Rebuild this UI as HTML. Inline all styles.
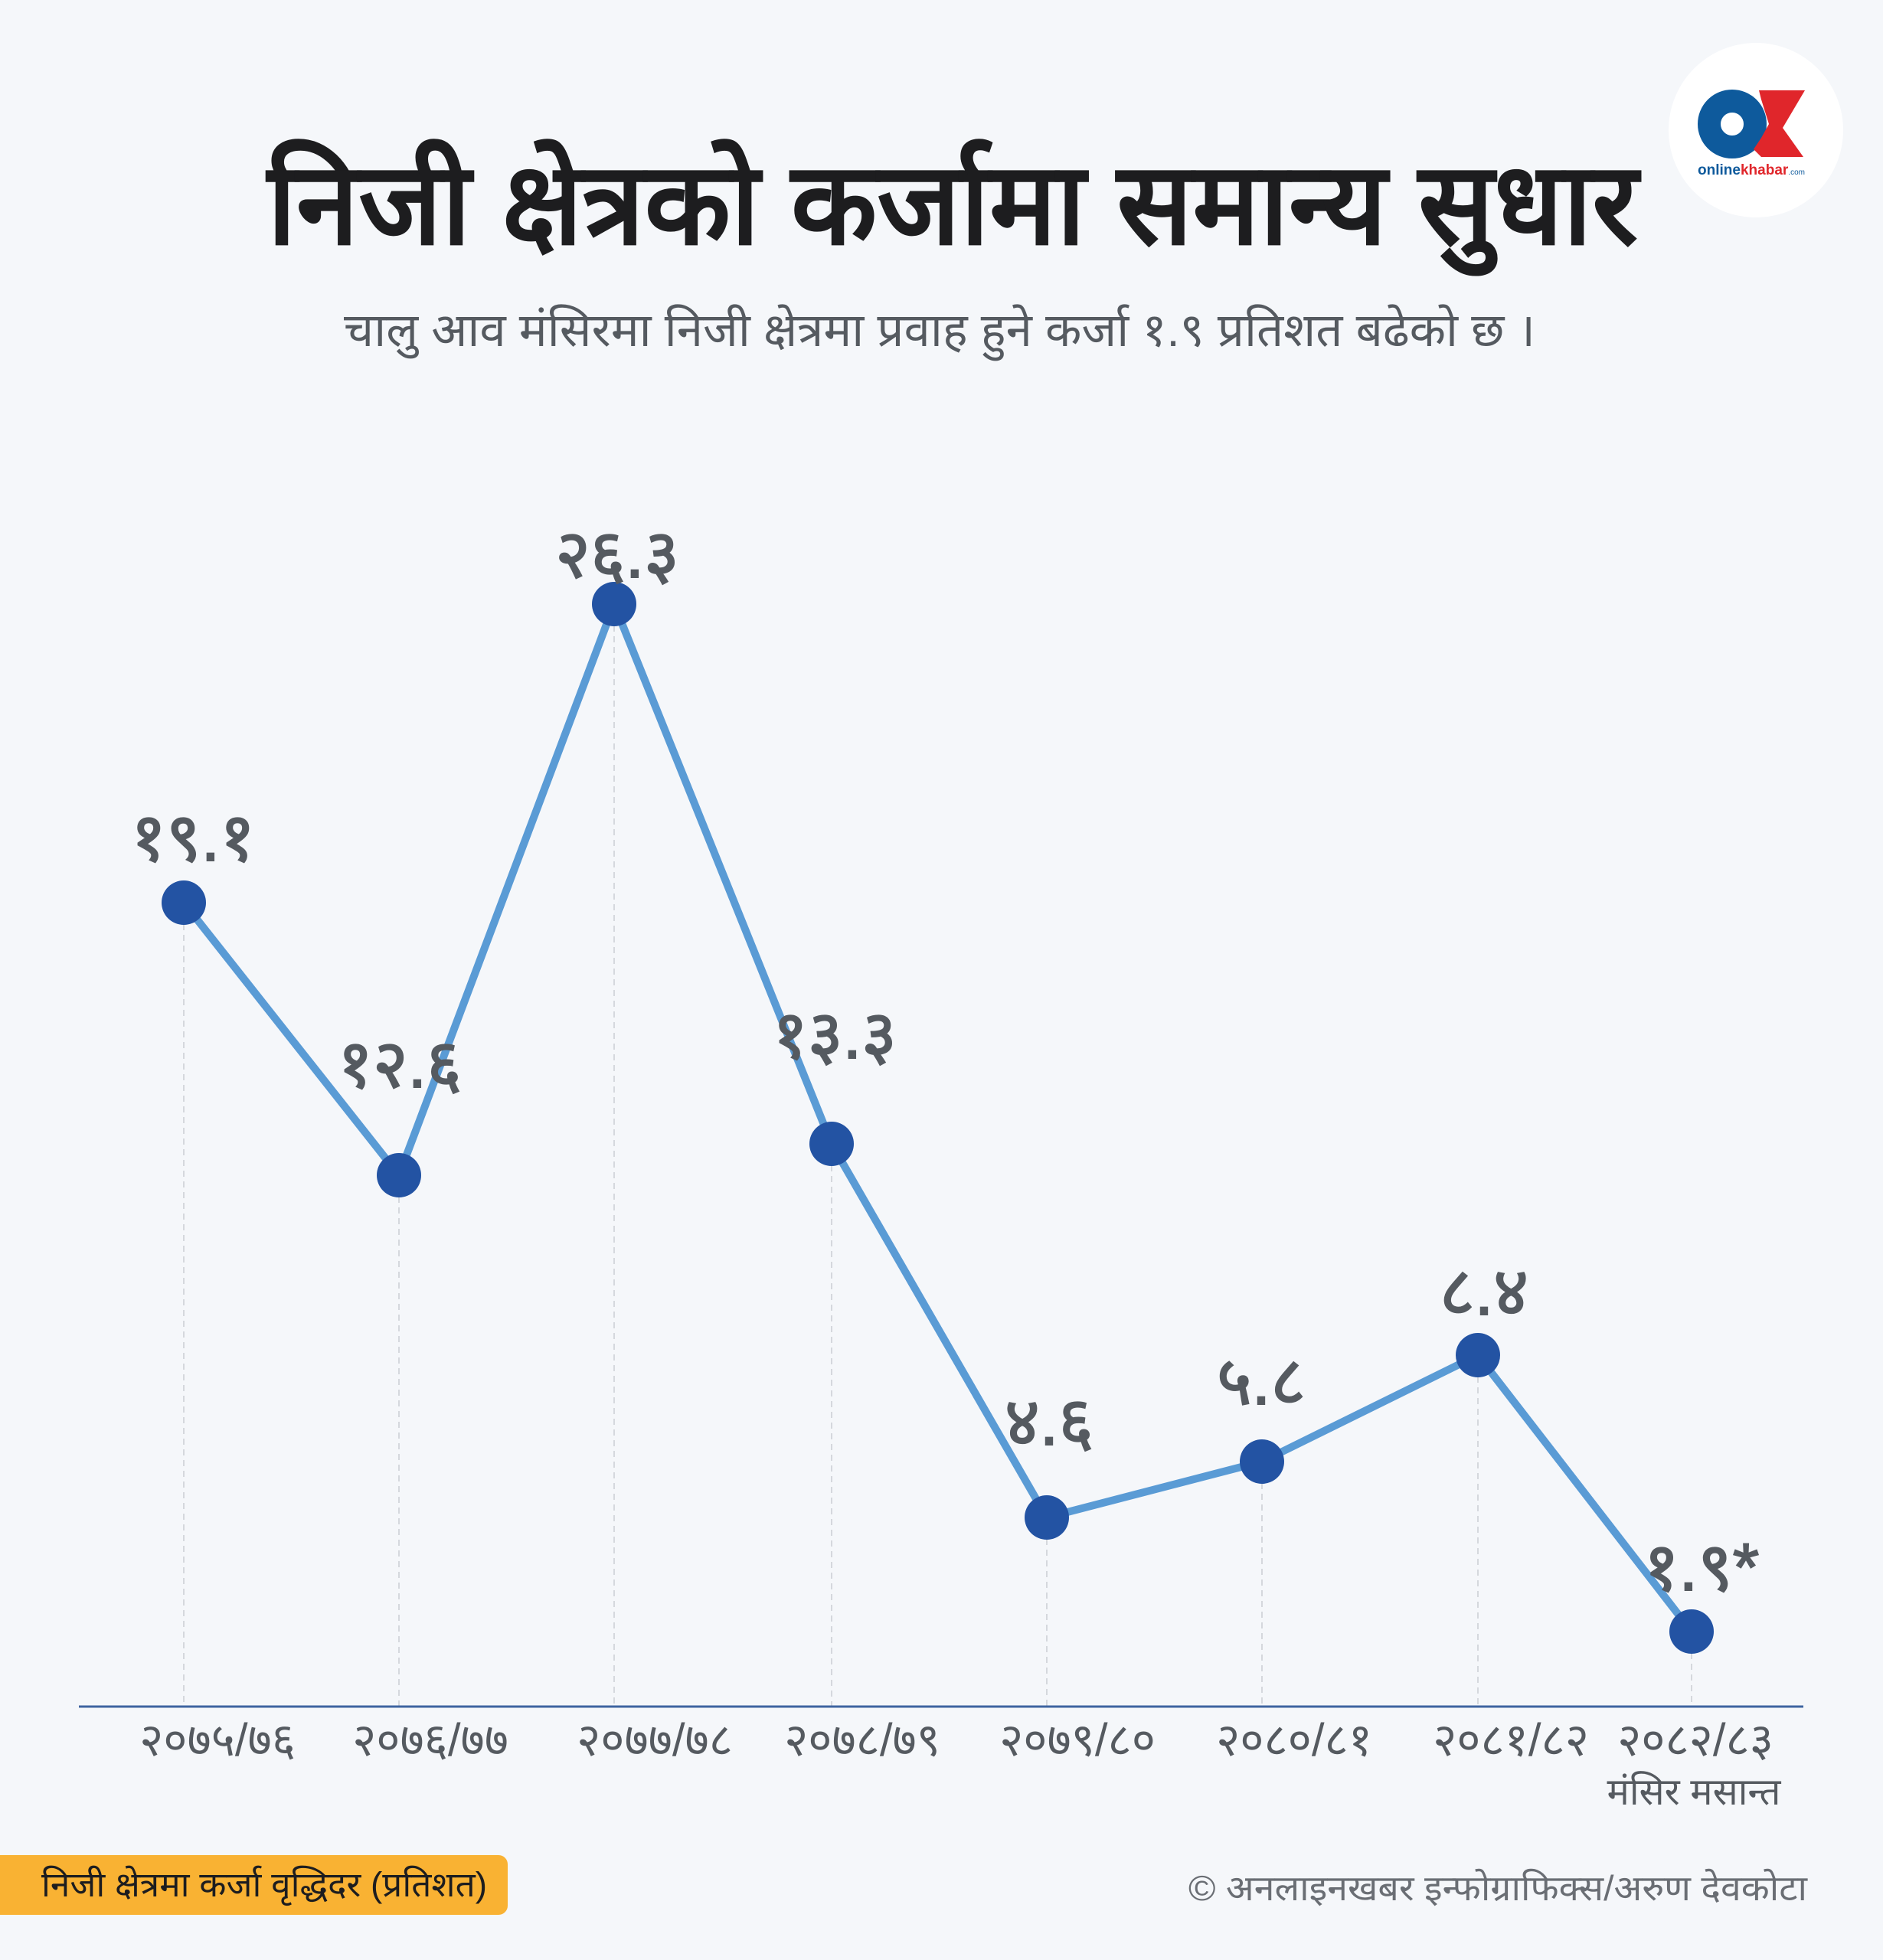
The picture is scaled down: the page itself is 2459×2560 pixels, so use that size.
<!DOCTYPE html>
<html><head><meta charset="utf-8"><style>
body{margin:0;background:#f5f7fa;}
svg{display:block}
</style></head><body>
<svg width="2459" height="2560" viewBox="0 0 2459 2560" xmlns="http://www.w3.org/2000/svg">
<rect width="2459" height="2560" fill="#f5f7fa"/>
<circle cx="2293" cy="170" r="114" fill="#ffffff"/>
<circle cx="2262" cy="162" r="30" fill="none" stroke="#0e5a9c" stroke-width="30"/>
<polygon points="2297,118 2357,118 2328,167 2355,205 2300,205 2290,195 2300,180 2310,162 2300,130" fill="#e0262b"/>
<text x="2287" y="228" font-family="Liberation Sans, sans-serif" font-weight="bold" font-size="19" text-anchor="middle"><tspan fill="#0e5a9c">online</tspan><tspan fill="#e0262b">khabar</tspan><tspan fill="#0e5a9c" font-size="10" font-weight="normal">.com</tspan></text>
<text x="1244" y="318" text-anchor="middle" font-family="Liberation Sans, 'Noto Sans CJK SC', sans-serif" font-weight="900" font-size="150" fill="#1d1d1f" textLength="1790" lengthAdjust="spacingAndGlyphs">निजी क्षेत्रको कर्जामा समान्य सुधार</text>
<text x="1227" y="452" text-anchor="middle" font-family="Liberation Sans, 'Noto Sans CJK SC', sans-serif" font-size="61" fill="#555a60" textLength="1556" lengthAdjust="spacingAndGlyphs">चालु आव मंसिरमा निजी क्षेत्रमा प्रवाह हुने कर्जा १.९ प्रतिशत बढेको छ ।</text>
<g stroke="#d5d8dd" stroke-width="2" stroke-dasharray="8,6">
<line x1="240" y1="1179" x2="240" y2="2229"/><line x1="521" y1="1535" x2="521" y2="2229"/><line x1="802" y1="789" x2="802" y2="2229"/><line x1="1086" y1="1494" x2="1086" y2="2229"/><line x1="1367" y1="1982" x2="1367" y2="2229"/><line x1="1648" y1="1909" x2="1648" y2="2229"/><line x1="1930" y1="1770" x2="1930" y2="2229"/><line x1="2209" y1="2131" x2="2209" y2="2229"/>
</g>
<line x1="103" y1="2229" x2="2355" y2="2229" stroke="#3e64a0" stroke-width="3"/>
<polyline points="240,1179 521,1535 802,789 1086,1494 1367,1982 1648,1909 1930,1770 2209,2131" fill="none" stroke="#5a9bd5" stroke-width="10" stroke-linejoin="round"/>
<g fill="#2353a3">
<circle cx="240" cy="1179" r="29"/><circle cx="521" cy="1535" r="29"/><circle cx="802" cy="789" r="29"/><circle cx="1086" cy="1494" r="29"/><circle cx="1367" cy="1982" r="29"/><circle cx="1648" cy="1909" r="29"/><circle cx="1930" cy="1770" r="29"/><circle cx="2209" cy="2131" r="29"/>
</g>
<g font-family="Liberation Sans, 'Noto Sans CJK SC', sans-serif" font-size="88" fill="#555a60" stroke="#555a60" stroke-width="2" text-anchor="middle">
<text x="252" y="1124">१९.१</text><text x="522" y="1420">१२.६</text><text x="806" y="754">२६.३</text><text x="1090" y="1382">१३.३</text><text x="1370" y="1887">४.६</text><text x="1647" y="1834">५.८</text><text x="1938" y="1717">८.४</text><text x="2222" y="2077">१.९*</text>
</g>
<g font-family="Liberation Sans, 'Noto Sans CJK SC', sans-serif" font-size="60" fill="#555a60" text-anchor="middle">
<text x="284" y="2293">२०७५/७६</text><text x="562" y="2293">२०७६/७७</text><text x="855" y="2293">२०७७/७८</text><text x="1126" y="2293">२०७८/७९</text><text x="1407" y="2293">२०७९/८०</text><text x="1690" y="2293">२०८०/८१</text><text x="1973" y="2293">२०८१/८२</text><text x="2214" y="2293">२०८२/८३</text>
<text x="2212" y="2357" font-size="49">मंसिर मसान्त</text>
</g>
<rect x="-20" y="2423" width="683" height="78" rx="12" fill="#f9b233"/>
<text x="54" y="2477" font-family="Liberation Sans, 'Noto Sans CJK SC', sans-serif" font-size="45" fill="#1d1d1f" textLength="582" lengthAdjust="spacingAndGlyphs">निजी क्षेत्रमा कर्जा वृद्धिदर  (प्रतिशत)</text>
<text x="2360" y="2482" text-anchor="end" font-family="Liberation Sans, 'Noto Sans CJK SC', sans-serif" font-size="46" fill="#6a6e74" textLength="808" lengthAdjust="spacingAndGlyphs">© अनलाइनखबर इन्फोग्राफिक्स/अरुण देवकोटा</text>
</svg>
</body></html>
